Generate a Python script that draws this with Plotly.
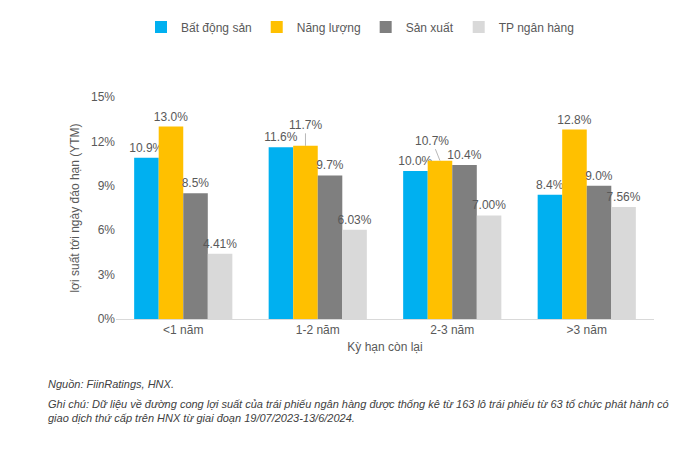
import plotly.graph_objects as go

categories = ["<1 năm", "1-2 năm", "2-3 năm", ">3 năm"]
series_names = ["Bất động sản", "Năng lượng", "Sản xuất", "TP ngân hàng"]
bds = [10.9, 11.6, 10.0, 8.4]
nang_luong = [13.0, 11.7, 10.7, 12.8]
san_xuat = [8.5, 9.7, 10.4, 9.0]
tp_ngan_hang = [4.41, 6.03, 7.00, 7.56]
decimals = [1, 1, 1, 2]
y_ticks = [0, 3, 6, 9, 12, 15]

colors = ["#00B0F0", "#FFC000", "#7F7F7F", "#D9D9D9"]
all_vals = [bds, nang_luong, san_xuat, tp_ngan_hang]
FONT = "Liberation Sans, Arial, sans-serif"
TXT = "#595959"

OFF = 8  # page body margin
W, H = 695 - OFF, 457 - OFF
L, T = 116 - OFF, 97 - OFF
R = W - (654 - OFF)
B = H - (319 - OFF)
PW, PH = W - L - R, H - T - B


def px(x):
    return (x - OFF - L) / PW


def py(y):
    return (H - B - (y - OFF)) / PH


fig = go.Figure()
for name, vals, col, d in zip(series_names, all_vals, colors, decimals):
    texts = [f"{v:.{d}f}%" for v in vals]
    if name == "Năng lượng":
        texts = [t if i not in (1, 2) else "" for i, t in enumerate(texts)]
    fig.add_trace(go.Bar(
        name=name, x=categories, y=vals, marker_color=col,
        marker_line_width=0,
        text=texts, textposition="outside", cliponaxis=False,
        constraintext="none",
        textfont=dict(family=FONT, size=12, color=TXT),
    ))

bargap = 0.27
bw = (1 - bargap) / 4
for i, (ax, ay) in zip((1, 2), ((0, -21), (-8, -20))):
    xc = i + (-1.5 + 1) * bw
    fig.add_annotation(
        x=xc, y=nang_luong[i], xref="x", yref="y",
        text=f"{nang_luong[i]:.1f}%", showarrow=True, arrowhead=0,
        arrowwidth=0.8, arrowcolor="#A6A6A6",
        ax=ax, ay=ay,
        font=dict(family=FONT, size=12, color=TXT),
    )

fig.add_annotation(
    xref="paper", yref="paper", x=px(46), y=py(384),
    xanchor="left", yanchor="middle", showarrow=False, align="left",
    text="<i>Nguồn: FiinRatings, HNX.</i>",
    font=dict(family=FONT, size=11, color="#404040"),
)
fig.add_annotation(
    xref="paper", yref="paper", x=px(46), y=py(411),
    xanchor="left", yanchor="middle", showarrow=False, align="left",
    text="<i>Ghi chú: Dữ liệu về đường cong lợi suất của trái phiếu ngân hàng được thống kê từ 163 lô trái phiếu từ 63 tổ chức phát hành có<br>giao dịch thứ cấp trên HNX từ giai đoạn 19/07/2023-13/6/2024.</i>",
    font=dict(family=FONT, size=11, color="#404040"),
)

fig.update_layout(
    width=W, height=H,
    margin=dict(l=L, r=R, t=T, b=B, autoexpand=False),
    paper_bgcolor="white", plot_bgcolor="white",
    barmode="group", bargap=bargap, bargroupgap=0,
    font=dict(family=FONT, size=12, color=TXT),
    showlegend=True,
    legend=dict(
        orientation="h",
        x=px(360), y=py(27), xanchor="center", yanchor="middle",
        font=dict(family=FONT, size=12, color=TXT),
        tracegroupgap=0, itemwidth=30,
    ),
    xaxis=dict(
        showline=True, linecolor="#D9D9D9", linewidth=1,
        ticks="", tickfont=dict(family=FONT, size=12, color=TXT),
        title=dict(text="Kỳ hạn còn lại", font=dict(family=FONT, size=12, color=TXT), standoff=6),
    ),
    yaxis=dict(
        range=[0, 15], tickvals=y_ticks, ticktext=[f"{t}%" for t in y_ticks],
        showgrid=False, zeroline=False, showline=False,
        tickfont=dict(family=FONT, size=12, color=TXT),
        title=dict(text="lợi suất tới ngày đáo hạn (YTM)", font=dict(family=FONT, size=12, color=TXT), standoff=8),
    ),
)

fig.write_html("out.html")
